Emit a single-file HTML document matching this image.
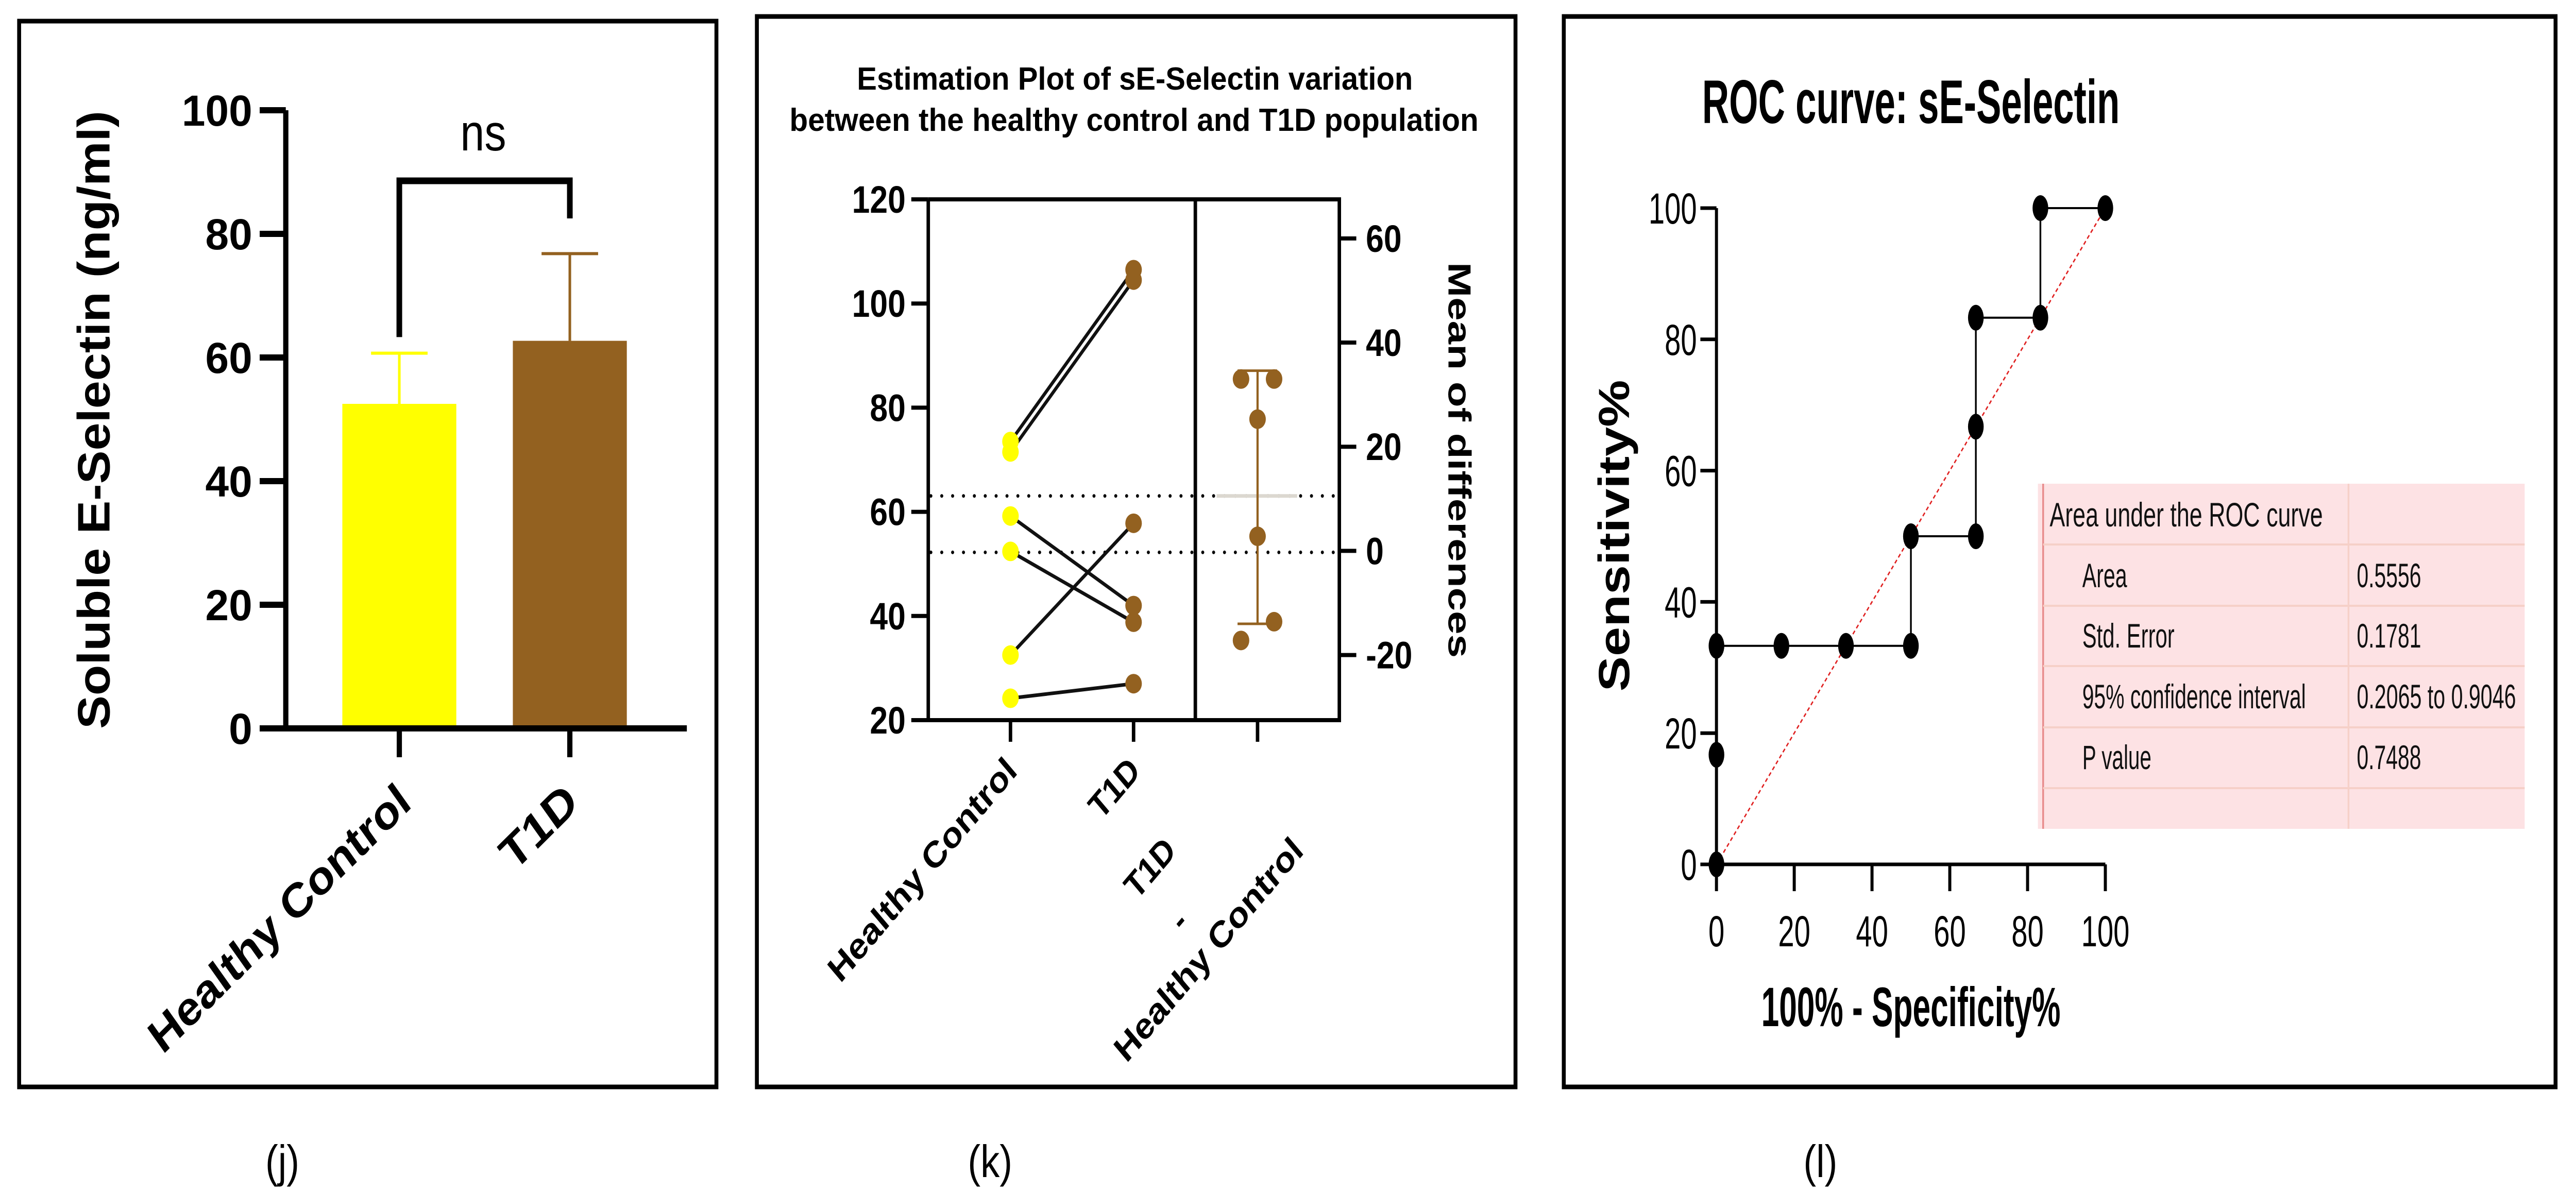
<!DOCTYPE html>
<html><head><meta charset="utf-8"><style>
html,body{margin:0;padding:0;background:#fff;width:5922px;height:2314px;overflow:hidden;}
svg{display:block;position:absolute;left:0;top:0;}
text{font-family:"Liberation Sans",sans-serif;}
</style></head><body>
<svg id="chart" width="100%" height="100%" style="width:100vw;height:100vh" viewBox="0 0 5922 2314" preserveAspectRatio="none" xmlns="http://www.w3.org/2000/svg">
<rect x="0" y="0" width="5922" height="2314" fill="#fff"/>
<!-- Panel j -->
<g id="pj">
<rect x="44" y="41" width="1603" height="2069" fill="none" stroke="#000" stroke-width="9"/>
<text x="224" y="815" transform="rotate(-90 224 815)" text-anchor="middle" dominant-baseline="middle" font-size="104" font-weight="bold" textLength="1200" lengthAdjust="spacingAndGlyphs">Soluble E-Selectin (ng/ml)</text>
<text x="1111" y="292" text-anchor="middle" font-size="100">ns</text>
<text x="950" y="1565" transform="rotate(-40 950 1565)" text-anchor="end" font-size="92" font-weight="bold" textLength="752" lengthAdjust="spacingAndGlyphs">Healthy Control</text>
<text x="1335" y="1565" transform="rotate(-40 1335 1565)" text-anchor="end" font-size="92" font-weight="bold" textLength="200" lengthAdjust="spacingAndGlyphs">T1D</text>
<text x="649" y="2285" text-anchor="middle" font-size="88" font-family="Liberation Serif, serif">(j)</text>
</g>
<!-- Panel k -->
<g id="pk">
<rect x="1740" y="32" width="1744" height="2078" fill="none" stroke="#000" stroke-width="9"/>
<text x="2609" y="174" text-anchor="middle" font-size="62" font-weight="bold" textLength="1278" lengthAdjust="spacingAndGlyphs">Estimation Plot of sE-Selectin variation</text>
<text x="2607" y="254" text-anchor="middle" font-size="62" font-weight="bold" textLength="1584" lengthAdjust="spacingAndGlyphs">between the healthy control and T1D population</text>
<text x="3330" y="893" transform="rotate(90 3330 893)" text-anchor="middle" font-size="74" font-weight="bold" textLength="768" lengthAdjust="spacingAndGlyphs">Mean of differences</text>
<text x="2342" y="1500" transform="rotate(-45 2342 1500)" text-anchor="end" font-size="70" font-weight="bold" textLength="580" lengthAdjust="spacingAndGlyphs">Healthy Control</text>
<text x="2625" y="1500" transform="rotate(-45 2625 1500)" text-anchor="end" font-size="70" font-weight="bold">T1D</text>
<text x="2707" y="1655" transform="rotate(-45 2707 1655)" text-anchor="end" font-size="70" font-weight="bold">T1D</text>
<text x="2735" y="1795" transform="rotate(-45 2735 1795)" text-anchor="end" font-size="70" font-weight="bold">-</text>
<text x="3000" y="1655" transform="rotate(-45 3000 1655)" text-anchor="end" font-size="70" font-weight="bold" textLength="580" lengthAdjust="spacingAndGlyphs">Healthy Control</text>
<text x="2276" y="2285" text-anchor="middle" font-size="88" font-family="Liberation Serif, serif">(k)</text>
</g>
<!-- Panel l -->
<g id="pl">
<rect x="3595" y="32" width="2280" height="2078" fill="none" stroke="#000" stroke-width="9"/>
<text x="3913" y="239" font-size="120" font-weight="bold" textLength="960" lengthAdjust="spacingAndGlyphs">ROC curve: sE-Selectin</text>
<text x="3745" y="1040" transform="rotate(-90 3745 1040)" text-anchor="middle" font-size="100" font-weight="bold" textLength="605" lengthAdjust="spacingAndGlyphs">Sensitivity%</text>
<text x="4393" y="1992" text-anchor="middle" font-size="108" font-weight="bold" textLength="688" lengthAdjust="spacingAndGlyphs">100% - Specificity%</text>
<g>
<rect x="4685" y="939" width="1119" height="670" fill="#fde2e4"/>
<line x1="4697" y1="939" x2="4697" y2="1609" stroke="#e88a8a" stroke-width="4"/>
<line x1="5399" y1="939" x2="5399" y2="1609" stroke="#f6d0c8" stroke-width="4"/>
<line x1="4697" y1="1057" x2="5804" y2="1057" stroke="#f6d0c8" stroke-width="4"/>
<line x1="4697" y1="1176" x2="5804" y2="1176" stroke="#f6d0c8" stroke-width="4"/>
<line x1="4697" y1="1293" x2="5804" y2="1293" stroke="#f6d0c8" stroke-width="4"/>
<line x1="4697" y1="1412" x2="5804" y2="1412" stroke="#f6d0c8" stroke-width="4"/>
<line x1="4697" y1="1530" x2="5804" y2="1530" stroke="#f6d0c8" stroke-width="4"/>
<text x="4712" y="1022" font-size="66" textLength="628" lengthAdjust="spacingAndGlyphs" fill="#111">Area under the ROC curve</text>
<text x="4787" y="1140" font-size="66" textLength="103" lengthAdjust="spacingAndGlyphs" fill="#111">Area</text>
<text x="5418" y="1140" font-size="66" textLength="148" lengthAdjust="spacingAndGlyphs" fill="#111">0.5556</text>
<text x="4787" y="1257" font-size="66" textLength="212" lengthAdjust="spacingAndGlyphs" fill="#111">Std. Error</text>
<text x="5418" y="1257" font-size="66" textLength="148" lengthAdjust="spacingAndGlyphs" fill="#111">0.1781</text>
<text x="4787" y="1375" font-size="66" textLength="514" lengthAdjust="spacingAndGlyphs" fill="#111">95% confidence interval</text>
<text x="5418" y="1375" font-size="66" textLength="366" lengthAdjust="spacingAndGlyphs" fill="#111">0.2065 to 0.9046</text>
<text x="4787" y="1493" font-size="66" textLength="159" lengthAdjust="spacingAndGlyphs" fill="#111">P value</text>
<text x="5418" y="1493" font-size="66" textLength="148" lengthAdjust="spacingAndGlyphs" fill="#111">0.7488</text>
</g>
<text x="4185" y="2285" text-anchor="middle" font-size="88" font-family="Liberation Serif, serif">(l)</text>
</g>
</svg>
<script>
// ---- Panel j data ----
const barCategories = ["Healthy Control", "T1D"];
const barMeans = [52.5, 62.7];
const barErrors = [8.2, 14.1];
const barTicks = [0, 20, 40, 60, 80, 100];
// ---- Panel k data ----
const hcValues = [73.5, 71.5, 59.2, 52.4, 32.5, 24.2];
const t1dValues = [106.5, 104.5, 42.0, 38.8, 57.8, 27.0];
const diffSlots = [1, -1, -1, 1, 0, 0];
const diffErrLow = [-14];
const diffErrHigh = [34.6];
const leftTicks = [20, 40, 60, 80, 100, 120];
const rightTicks = [-20, 0, 20, 40, 60];
// ---- Panel l data ----
const rocSpec = [0, 0, 0, 16.7, 33.3, 50, 50, 66.7, 66.7, 66.7, 83.3, 83.3, 100];
const rocSens = [0, 16.7, 33.3, 33.3, 33.3, 33.3, 50, 50, 66.7, 83.3, 83.3, 100, 100];
const rocTicks = [0, 20, 40, 60, 80, 100];

const NS = "http://www.w3.org/2000/svg";
function mk(parent, tag, attrs, txt) {
  const e = document.createElementNS(NS, tag);
  for (const k in attrs) e.setAttribute(k, attrs[k]);
  if (txt !== undefined) e.textContent = txt;
  parent.appendChild(e);
  return e;
}
const pj = document.getElementById("pj");
const pk = document.getElementById("pk");
const pl = document.getElementById("pl");

// ===== Panel j =====
const jy = v => 1414 - v * 12.0;
const jx = i => 918 + i * 392;
const barColors = ["#ffff00", "#936120"];
barMeans.forEach((m, i) => {
  const r = mk(pj, "rect", {x: jx(i) - 131, y: jy(m), width: 262, height: jy(0) - jy(m), fill: barColors[i]});
  
  
  const eb = mk(pj, "path", {d: `M${jx(i)} ${jy(m)} V${jy(m + barErrors[i])} M${jx(i) - 65} ${jy(m + barErrors[i])} H${jx(i) + 65}`, stroke: barColors[i], "stroke-width": 6, fill: "none"});
  
  
  const xt = mk(pj, "line", {x1: jx(i), y1: 1414, x2: jx(i), y2: 1470, stroke: "#000", "stroke-width": 12});
  
  
});
const jaxis = mk(pj, "path", {d: "M657 214 V1414 M597 1414 H1579", stroke: "#000", "stroke-width": 12, fill: "none"});


barTicks.forEach(t => {
  const tl = mk(pj, "line", {x1: 597, y1: jy(t), x2: 657, y2: jy(t), stroke: "#000", "stroke-width": 12});
  
  
  const tx = mk(pj, "text", {x: 580, y: jy(t) + 30, "text-anchor": "end", "font-size": 84, "font-weight": "bold", textLength: String(t).length * 54, lengthAdjust: "spacingAndGlyphs"}, String(t));
  
  
});
const br = mk(pj, "path", {d: `M${jx(0)} ${jy(63.3)} V351 H${jx(1)} V${jy(82.5)}`, stroke: "#000", "stroke-width": 13, fill: "none"});



// ===== Panel k =====
const ky = v => 1398 - (v - 20) * 10.11;
const kd = d => ky(52.5 + d);
const xHC = 2323, xT1 = 2606, xDiff = 2891;
const meanHC = hcValues.reduce((a, b) => a + b, 0) / hcValues.length;
const diffs = hcValues.map((v, i) => t1dValues[i] - v);
const meanDiff = diffs.reduce((a, b) => a + b, 0) / diffs.length;
[ky(meanHC), kd(meanDiff)].forEach((yy, i) => {
  const dl = mk(pk, "line", {x1: 2140, y1: yy, x2: 3079, y2: yy, stroke: "#000", "stroke-width": 7, "stroke-dasharray": "0 25", "stroke-linecap": "round"});
  
  
});
hcValues.forEach((v, i) => {
  const ln = mk(pk, "line", {x1: xHC, y1: ky(v), x2: xT1, y2: ky(t1dValues[i]), stroke: "#111", "stroke-width": 7});
  
  
});
hcValues.forEach((v, i) => {
  const c = mk(pk, "circle", {cx: xHC, cy: ky(v), r: 19, fill: "#ffff00"});
  
  
  const c2 = mk(pk, "circle", {cx: xT1, cy: ky(t1dValues[i]), r: 19, fill: "#936120"});
  
  
});
const ml = mk(pk, "line", {x1: 2797, y1: kd(meanDiff), x2: 2982, y2: kd(meanDiff), stroke: "#dcd8d0", "stroke-width": 7});


const de = mk(pk, "path", {d: `M${xDiff} ${kd(diffErrLow[0])} V${kd(diffErrHigh[0])} M2845 ${kd(diffErrLow[0])} H2936 M2845 ${kd(diffErrHigh[0])} H2936`, stroke: "#936120", "stroke-width": 5, fill: "none"});


diffs.forEach((d, i) => {
  const c = mk(pk, "circle", {cx: xDiff + diffSlots[i] * 38, cy: kd(d), r: 19, fill: "#936120"});
  
  
});
const kaxis = mk(pk, "path", {d: "M2134 387 V1398 H3079 V387 H2134 M2748 387 V1398", stroke: "#000", "stroke-width": 8, fill: "none"});


leftTicks.forEach(t => {
  const tl = mk(pk, "line", {x1: 2095, y1: ky(t), x2: 2134, y2: ky(t), stroke: "#000", "stroke-width": 8});
  
  
  const tx = mk(pk, "text", {x: 2082, y: ky(t) + 26, "text-anchor": "end", "font-size": 74, "font-weight": "bold"}, String(t));
  
  
});
rightTicks.forEach(t => {
  const tl = mk(pk, "line", {x1: 3079, y1: kd(t), x2: 3118, y2: kd(t), stroke: "#000", "stroke-width": 8});
  
  
  const tx = mk(pk, "text", {x: 3140, y: kd(t) + 26, "font-size": 74, "font-weight": "bold"}, String(t));
  
  
});
[xHC, xT1, xDiff].forEach(x => {
  const tl = mk(pk, "line", {x1: x, y1: 1398, x2: x, y2: 1440, stroke: "#000", "stroke-width": 8});
  
  
});

// ===== Panel l =====
const lx = v => 3946 + v * 8.94;
const ly = v => 1678 - v * 12.74;
const diag = mk(pl, "line", {x1: lx(0), y1: ly(0), x2: lx(100), y2: ly(100), stroke: "#e02020", "stroke-width": 3, "stroke-dasharray": "8 6"});


const pts = rocSpec.map((s, i) => `${lx(s)},${ly(rocSens[i])}`).join(" ");
const rl = mk(pl, "polyline", {points: pts, fill: "none", stroke: "#000", "stroke-width": 4});


const laxis = mk(pl, "path", {d: `M${lx(0)} ${ly(100)} V${ly(0)} H${lx(100)}`, stroke: "#000", "stroke-width": 7, fill: "none"});


rocTicks.forEach(t => {
  const yt = mk(pl, "line", {x1: 3909, y1: ly(t), x2: lx(0), y2: ly(t), stroke: "#000", "stroke-width": 7});
  
  
  const ytl = mk(pl, "text", {x: 3901, y: ly(t) + 30, "text-anchor": "end", "font-size": 84, textLength: String(t).length * 37, lengthAdjust: "spacingAndGlyphs"}, String(t));
  
  
  const xt = mk(pl, "line", {x1: lx(t), y1: ly(0), x2: lx(t), y2: 1730, stroke: "#000", "stroke-width": 7});
  
  
  const xtl = mk(pl, "text", {x: lx(t), y: 1837, "text-anchor": "middle", "font-size": 84, textLength: String(t).length * 37, lengthAdjust: "spacingAndGlyphs"}, String(t));
  
  
});
rocSpec.forEach((s, i) => {
  const e = mk(pl, "ellipse", {cx: lx(s), cy: ly(rocSens[i]), rx: 18, ry: 25, fill: "#000"});
  
  
});
</script>
</body></html>
